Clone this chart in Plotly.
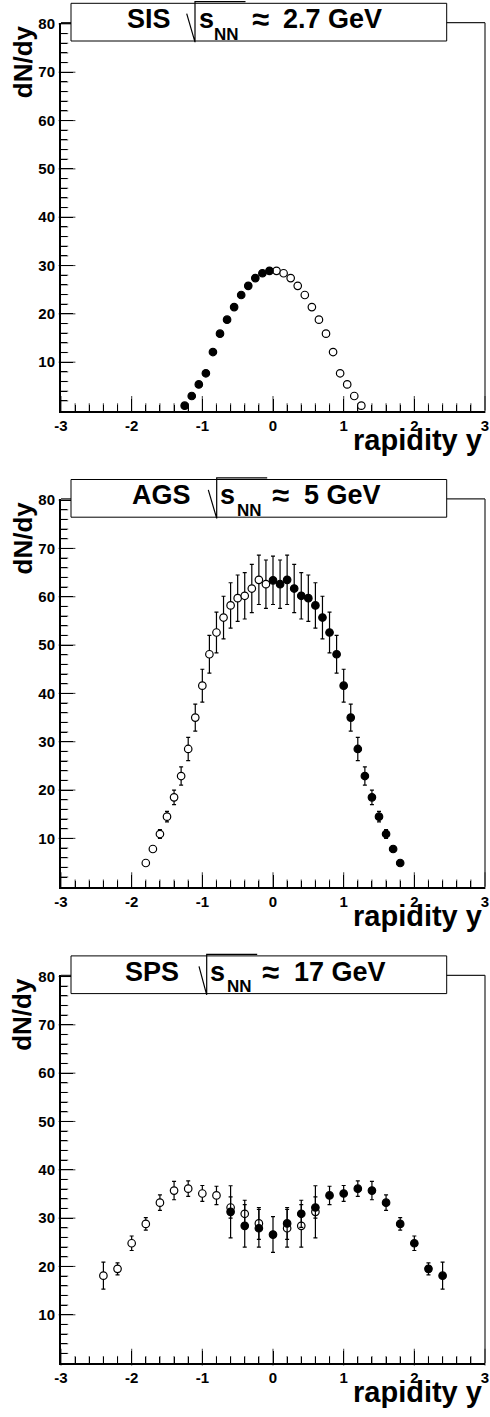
import plotly.graph_objects as go

# ---------------- data ----------------
# SIS  (sqrt(sNN) ~ 2.7 GeV)
sis_y_filled = [-1.25, -1.15, -1.05, -0.95, -0.85, -0.75, -0.65, -0.55, -0.45, -0.35, -0.25, -0.15, -0.05]
sis_dndy_filled = [1.0, 3.0, 5.4, 7.7, 12.1, 15.9, 18.8, 21.4, 23.9, 25.8, 27.4, 28.4, 28.9]
sis_y_open = [0.05, 0.15, 0.25, 0.35, 0.45, 0.55, 0.65, 0.75, 0.85, 0.95, 1.05, 1.15, 1.25]
sis_dndy_open = [28.9, 28.4, 27.4, 25.8, 23.9, 21.4, 18.8, 15.9, 12.1, 7.7, 5.4, 3.0, 1.0]

# AGS  (sqrt(sNN) ~ 5 GeV)
ags_y_open = [-1.8, -1.7, -1.6, -1.5, -1.4, -1.3, -1.2, -1.1, -1.0, -0.9, -0.8, -0.7, -0.6, -0.5, -0.4, -0.3, -0.2, -0.1]
ags_dndy_open = [4.9, 7.8, 10.9, 14.5, 18.5, 22.9, 28.5, 35.0, 41.6, 48.1, 52.6, 55.7, 58.2, 59.7, 60.2, 61.7, 63.5, 62.6]
ags_err_open = [0.4, 0.6, 0.9, 1.1, 1.5, 1.9, 2.4, 2.8, 3.4, 3.9, 4.2, 4.4, 4.7, 4.8, 4.8, 5.0, 5.1, 5.0]
ags_y_filled = [0.0, 0.1, 0.2, 0.3, 0.4, 0.5, 0.6, 0.7, 0.8, 0.9, 1.0, 1.1, 1.2, 1.3, 1.4, 1.5, 1.6, 1.7, 1.8]
ags_dndy_filled = [63.4, 62.6, 63.5, 61.7, 60.2, 59.7, 58.2, 55.7, 52.6, 48.1, 41.6, 35.0, 28.5, 22.9, 18.5, 14.5, 10.9, 7.8, 4.9]
ags_err_filled = [5.0, 5.0, 5.1, 5.0, 4.8, 4.8, 4.7, 4.4, 4.2, 3.9, 3.4, 2.8, 2.4, 1.9, 1.5, 1.1, 0.9, 0.6, 0.4]

# SPS  (sqrt(sNN) ~ 17 GeV)
sps_y_open = [-2.4, -2.2, -2.0, -1.8, -1.6, -1.4, -1.2, -1.0, -0.8, -0.6, -0.4, -0.2, 0.2, 0.4, 0.6]
sps_dndy_open = [18.1, 19.5, 24.8, 28.8, 33.2, 35.7, 36.1, 35.1, 34.7, 32.2, 30.9, 28.9, 27.9, 28.4, 31.3]
sps_err_open = [2.8, 1.25, 1.5, 1.3, 1.6, 1.9, 1.6, 1.65, 1.9, 2.2, 2.8, 3.3, 3.9, 4.4, 5.4]
sps_y_filled = [-0.6, -0.4, -0.2, 0.0, 0.2, 0.4, 0.6, 0.8, 1.0, 1.2, 1.4, 1.6, 1.8, 2.0, 2.2, 2.4]
sps_dndy_filled = [31.3, 28.4, 27.9, 26.6, 28.9, 30.9, 32.2, 34.7, 35.1, 36.1, 35.7, 33.2, 28.8, 24.8, 19.5, 18.1]
sps_err_filled = [5.4, 4.4, 3.9, 3.7, 3.3, 2.8, 2.2, 1.9, 1.65, 1.6, 1.9, 1.6, 1.3, 1.5, 1.25, 2.8]

x_tick_vals = [-3, -2, -1, 0, 1, 2, 3]
x_tick_text = ["-3", "-2", "-1", "0", "1", "2", "3"]
y_tick_vals = [10, 20, 30, 40, 50, 60, 70, 80]
y_tick_text = ["10", "20", "30", "40", "50", "60", "70", "80"]

titles = [
    dict(name="SIS", energy="2.7 GeV", name_r=172, s_l=197.5, nn_l=213, ap_l=251, en_r=383, dx0=186.7, vx=195.0),
    dict(name="AGS", energy="5 GeV", name_r=192, s_l=219.0, nn_l=235.5, ap_l=271, en_r=382, dx0=208.3, vx=216.7),
    dict(name="SPS", energy="17 GeV", name_r=180, s_l=209.0, nn_l=225.5, ap_l=261, en_r=387, dx0=199.0, vx=206.7),
]

panels = [
    dict(open=(sis_y_open, sis_dndy_open, None), filled=(sis_y_filled, sis_dndy_filled, None)),
    dict(open=(ags_y_open, ags_dndy_open, ags_err_open), filled=(ags_y_filled, ags_dndy_filled, ags_err_filled)),
    dict(open=(sps_y_open, sps_dndy_open, sps_err_open), filled=(sps_y_filled, sps_dndy_filled, sps_err_filled)),
]

# ---------------- geometry ----------------
W, H = 490, 1417
LEFT, RIGHT = 61.0, 485.0
TOPS = [22.7, 498.9, 975.3]
PH = 387.8
PX_PER_Y = 4.8325                      # pixels per dN/dy unit
PX_PER_X = (RIGHT - LEFT) / 6.0        # pixels per rapidity unit
Y_MAX = PH / PX_PER_Y
FONT = "Liberation Sans, Arial, Helvetica, sans-serif"

# axis decoration: tick positions along the axes (major + minor)
x_ticks_all = [round(-3 + 0.2 * k, 1) for k in range(31)]
y_ticks_all = [2 * k for k in range(1, 41) if 2 * k <= Y_MAX]


def fx(px):
    return px / W


def fy(py):
    return 1 - py / H


fig = go.Figure()
layout = dict(
    template="none",
    width=W, height=H, margin=dict(l=0, r=0, t=0, b=0, pad=0), autosize=False,
    paper_bgcolor="white", plot_bgcolor="rgba(0,0,0,0)", showlegend=False,
)
shapes = []
annotations = []

for i, p in enumerate(panels):
    sfx = "" if i == 0 else str(i + 1)
    xa, ya = "x" + sfx, "y" + sfx
    T = TOPS[i]
    B = T + PH

    # inward ticks drawn as line-shaped markers placed through the axes' own scales
    tx, ty, tsym, tsize = [], [], [], []
    for v in x_ticks_all:
        L = 12 if abs(v - round(v)) < 1e-9 else 6
        tx.append(v)
        ty.append(L / 2 / PX_PER_Y)
        tsym.append("line-ns")
        tsize.append(L)
    for v in y_ticks_all:
        L = 12 if v % 10 == 0 else 6
        tx.append(-3 + L / 2 / PX_PER_X)
        ty.append(v)
        tsym.append("line-ew")
        tsize.append(L)
    fig.add_trace(go.Scatter(
        x=tx, y=ty, mode="markers", xaxis=xa, yaxis=ya,
        marker=dict(symbol=tsym, size=tsize, color="black",
                    line=dict(color="black", width=1.1)),
        hoverinfo="skip", cliponaxis=False))

    for kind in ("open", "filled"):
        xs, ys, errs = p[kind]
        marker = dict(
            symbol="circle", size=7.5,
            color="white" if kind == "open" else "black",
            line=dict(color="black", width=1.2),
        )
        tr = dict(x=xs, y=ys, mode="markers", marker=marker, xaxis=xa, yaxis=ya,
                  hoverinfo="x+y")
        if errs is not None:
            tr["error_y"] = dict(type="data", array=errs, visible=True,
                                 color="black", thickness=1.2, width=2)
        fig.add_trace(go.Scatter(**tr))

    layout["xaxis" + sfx] = dict(
        domain=[fx(LEFT), fx(RIGHT)], range=[-3, 3], anchor=ya, automargin=False,
        tickmode="array", tickvals=x_tick_vals, ticktext=x_tick_text,
        ticks="inside", ticklen=12, tickwidth=1, tickcolor="#000000",
        minor=dict(dtick=0.2, ticks="inside", ticklen=6),
        showline=True, linewidth=2, linecolor="black",
        showgrid=False, zeroline=False,
        tickfont=dict(family=FONT, size=15, color="black", weight="bold"),
        fixedrange=True,
    )
    layout["yaxis" + sfx] = dict(
        domain=[fy(B), fy(T)], range=[0, Y_MAX], anchor=xa, automargin=False,
        tickmode="array", tickvals=y_tick_vals, ticktext=y_tick_text,
        ticks="inside", ticklen=12, tickwidth=1, tickcolor="#000000",
        minor=dict(dtick=2, ticks="inside", ticklen=6),
        showline=True, linewidth=2, linecolor="black",
        showgrid=False, zeroline=False,
        tickfont=dict(family=FONT, size=15, color="black", weight="bold"),
        ticklabelstandoff=1,
        fixedrange=True,
    )

    # right and top frame lines (paper coords)
    shapes.append(dict(type="line", xref="paper", yref="paper",
                       x0=fx(RIGHT), x1=fx(RIGHT), y0=fy(B), y1=fy(T),
                       line=dict(color="#222", width=1.2)))
    shapes.append(dict(type="line", xref="paper", yref="paper",
                       x0=fx(LEFT), x1=fx(RIGHT), y0=fy(T), y1=fy(T),
                       line=dict(color="#222", width=1.2)))

    # title box
    t = titles[i]
    shapes.append(dict(type="rect", xref="paper", yref="paper",
                       x0=fx(71), x1=fx(446.7), y0=fy(T + 18.3), y1=fy(T - 19.4),
                       fillcolor="white", line=dict(color="black", width=1), layer="above"))
    # square-root sign
    vx = t["vx"]
    shapes.append(dict(type="path", xref="paper", yref="paper",
                       path=f"M {fx(t['dx0'])},{fy(T - 9)} L {fx(vx)},{fy(T + 19.5)} "
                            f"L {fx(vx)},{fy(T - 21)} L {fx(vx + 50.5)},{fy(T - 21)}",
                       line=dict(color="black", width=1.2), layer="above"))

    bold = dict(family=FONT, color="black", weight="bold")
    annotations += [
        dict(text=t["name"], x=fx(t["name_r"]), y=fy(T - 3.6), xanchor="right", yanchor="middle",
             font=dict(size=27, **bold)),
        dict(text="s", x=fx(t["s_l"]), y=fy(T - 3.6), xanchor="left", yanchor="middle",
             font=dict(size=27, **bold)),
        dict(text="NN", x=fx(t["nn_l"]), y=fy(T + 11.4), xanchor="left", yanchor="middle",
             font=dict(size=17, **bold)),
        dict(text="≈", x=fx(t["ap_l"]), y=fy(T - 3.2), xanchor="left", yanchor="middle",
             font=dict(size=31, **bold)),
        dict(text=t["energy"], x=fx(t["en_r"]), y=fy(T - 3.6), xanchor="right", yanchor="middle",
             font=dict(size=27, **bold)),
        dict(text="dN/dy", x=fx(22.5), y=fy(T + 1.5), xanchor="center", yanchor="top",
             textangle=-90, font=dict(size=26, **bold)),
        dict(text="rapidity y", x=fx(483), y=fy(B + 29), xanchor="right", yanchor="middle",
             font=dict(size=29, **bold)),
    ]

for a in annotations:
    a.setdefault("xref", "paper")
    a.setdefault("yref", "paper")
    a.setdefault("showarrow", False)
    a.setdefault("borderpad", 0)

layout["shapes"] = shapes
layout["annotations"] = annotations
fig.update_layout(**layout)

fig.write_html(
    "out.html",
    config={"displayModeBar": False},
    post_script="document.body.style.margin='0';document.body.style.padding='0';"
                "document.documentElement.style.overflow='hidden';",
)
